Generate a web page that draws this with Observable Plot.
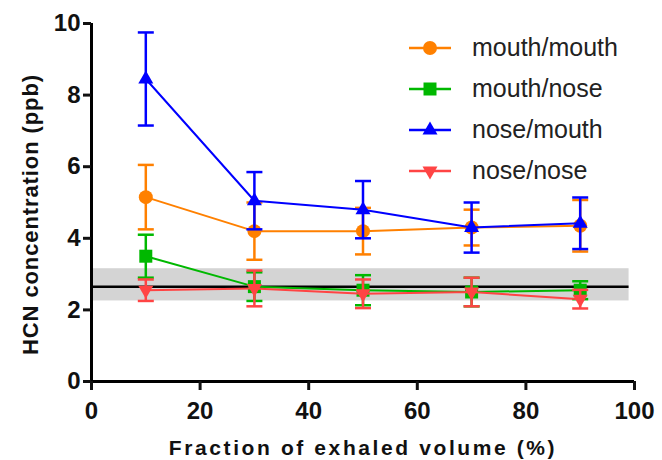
<!DOCTYPE html>
<html><head><meta charset="utf-8">
<script src="https://cdn.jsdelivr.net/npm/d3@7"></script>
<script src="https://cdn.jsdelivr.net/npm/@observablehq/plot@0.6"></script>
<style>
body{margin:0;background:#fff;}
#wrap{position:relative;width:662px;height:460px;font-family:"Liberation Sans",Arial,sans-serif;}
#legend{position:absolute;left:409px;top:27px;}
.row{display:flex;align-items:center;height:41px;}
.row span{font-size:25px;color:#222;margin-left:21px;line-height:1;}
</style></head><body><div id="wrap"><div id="legend"></div></div>
<script>
// ---- data ----
const fractions = [10, 30, 50, 70, 90];
const seriesNames = ["mouth/mouth", "mouth/nose", "nose/mouth", "nose/nose"];
const mouthMouth   = [5.15, 4.2, 4.2, 4.3, 4.35];
const mouthMouthSD = [0.9, 0.8, 0.65, 0.5, 0.72];
const mouthNose    = [3.5, 2.65, 2.55, 2.5, 2.55];
const mouthNoseSD  = [0.6, 0.4, 0.42, 0.4, 0.25];
const noseMouth    = [8.45, 5.05, 4.8, 4.3, 4.42];
const noseMouthSD  = [1.3, 0.8, 0.8, 0.7, 0.72];
const noseNose     = [2.55, 2.6, 2.45, 2.5, 2.3];
const noseNoseSD   = [0.3, 0.5, 0.4, 0.4, 0.26];
const baselineMean = 2.65;
const baselineLow = 2.25;
const baselineHigh = 3.15;
const baselineXEnd = 99;
const xTicks = [0, 20, 40, 60, 80, 100];
const yTicks = [0, 2, 4, 6, 8, 10];
const xTitle = "Fraction of exhaled volume (%)";
const yTitle = "HCN concentration (ppb)";

// ---- styles ----
const colors = ["#ff8000", "#00b800", "#0000ff", "#ff4444"];
const means = [mouthMouth, mouthNose, noseMouth, noseNose];
const sds = [mouthMouthSD, mouthNoseSD, noseMouthSD, noseNoseSD];

const cap = {draw(ctx) { ctx.moveTo(-8, 0); ctx.lineTo(8, 0); }};
const circle = {draw(ctx) { ctx.moveTo(7, 0); ctx.arc(0, 0, 7, 0, 2 * Math.PI); ctx.closePath(); }};
const square = {draw(ctx) { ctx.moveTo(-6.5, -6.5); ctx.lineTo(6.5, -6.5); ctx.lineTo(6.5, 6.5); ctx.lineTo(-6.5, 6.5); ctx.closePath(); }};
const triUp = {draw(ctx) { ctx.moveTo(0, -8.5); ctx.lineTo(7.5, 4.5); ctx.lineTo(-7.5, 4.5); ctx.closePath(); }};
const triDown = {draw(ctx) { ctx.moveTo(0, 8.5); ctx.lineTo(7.5, -4.5); ctx.lineTo(-7.5, -4.5); ctx.closePath(); }};
const symbols = [circle, square, triUp, triDown];

const seriesMarks = [];
seriesNames.forEach((name, i) => {
  const d = fractions.map((f, j) => ({series: name, x: f, y: means[i][j], sd: sds[i][j]}));
  seriesMarks.push(
    Plot.ruleX(d, {x: "x", y1: r => r.y - r.sd, y2: r => r.y + r.sd, stroke: colors[i], strokeWidth: 2.5}),
    Plot.dot(d, {x: "x", y: r => r.y + r.sd, symbol: cap, stroke: colors[i], strokeWidth: 2.5}),
    Plot.dot(d, {x: "x", y: r => r.y - r.sd, symbol: cap, stroke: colors[i], strokeWidth: 2.5}),
    Plot.line(d, {x: "x", y: "y", stroke: colors[i], strokeWidth: 2}),
    Plot.dot(d, {x: "x", y: "y", symbol: symbols[i], fill: colors[i], stroke: "none"})
  );
});

const chart = Plot.plot({
  width: 662,
  height: 460,
  marginLeft: 91,
  marginRight: 28,
  marginTop: 23,
  marginBottom: 79,
  style: {fontFamily: '"Liberation Sans", Arial, sans-serif', background: "transparent", color: "#111"},
  x: {domain: [0, 100]},
  y: {domain: [0, 10]},
  marks: [
    Plot.rect([{x1: 0, x2: baselineXEnd, y1: baselineLow, y2: baselineHigh}], {x1: "x1", x2: "x2", y1: "y1", y2: "y2", fill: "#d4d4d4"}),
    Plot.ruleY([baselineMean], {x1: 0, x2: baselineXEnd, stroke: "#000", strokeWidth: 2.5}),
    ...seriesMarks,
    Plot.ruleX([0], {stroke: "#000", strokeWidth: 3}),
    Plot.ruleY([0], {stroke: "#000", strokeWidth: 3}),
    Plot.axisX({ticks: xTicks, tickSize: 9, tickPadding: 11, strokeWidth: 3, fontSize: 24, fontWeight: "bold", label: null, tickFormat: d => String(d)}),
    Plot.axisY({ticks: yTicks, tickSize: 8, tickPadding: 3, strokeWidth: 3, fontSize: 24, fontWeight: "bold", label: null, tickFormat: d => String(d)}),
    Plot.text([xTitle], {text: d => d, frameAnchor: "bottom", dy: 67, fontSize: 21, fontWeight: "bold", lineAnchor: "middle", textAnchor: "middle"}),
    Plot.text([yTitle], {text: d => d, frameAnchor: "left", dx: -61, dy: 12, rotate: -90, fontSize: 22, fontWeight: "bold", lineAnchor: "middle", textAnchor: "middle"})
  ]
});
d3.select(chart).selectAll("text").filter(function() { return this.textContent === xTitle; }).attr("letter-spacing", "2.6px");
d3.select(chart).selectAll("text").filter(function() { return this.textContent === yTitle; }).attr("letter-spacing", "0.9px");
document.getElementById("wrap").prepend(chart);

// ---- legend ----
const symbolPaths = symbols.map(s => { const p = d3.path(); s.draw(p); return p.toString(); });
const legend = d3.select("#legend");
seriesNames.forEach((name, i) => {
  const row = legend.append("div").attr("class", "row");
  const svg = row.append("svg").attr("width", 42).attr("height", 20);
  svg.append("line").attr("x1", 0).attr("x2", 42).attr("y1", 10).attr("y2", 10).attr("stroke", colors[i]).attr("stroke-width", 2.5);
  svg.append("path").attr("d", symbolPaths[i]).attr("transform", "translate(21,10)").attr("fill", colors[i]);
  row.append("span").text(name);
});
</script></body></html>
